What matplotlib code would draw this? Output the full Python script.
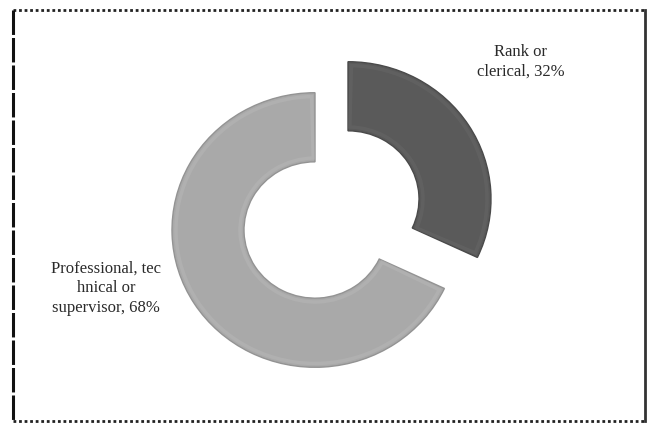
import matplotlib.pyplot as plt
from matplotlib.patches import Wedge
from matplotlib.lines import Line2D

# Share of staff by job category
categories = ["Rank or\nclerical", "Professional, tec\nhnical or\nsupervisor"]
shares = [32, 68]
colors = ["#5a5a5a", "#a9a9a9"]
edge_colors = ["#4a4a4a", "#939393"]
highlight_colors = ["#666666", "#b6b6b6"]

W, H = 654, 430
YS = 0.96  # vertical squash of the ring


def to_data(px, py):
    return px, (H - py) / YS


fig = plt.figure(figsize=(W / 100, H / 100), dpi=100)
fig.patch.set_facecolor("white")
ax = fig.add_axes([0, 0, 1, 1])

radius = 143
ring_width = 72
centers_px = [(348, 199), (315, 230)]

wedges, _ = ax.pie(
    shares,
    startangle=90,
    counterclock=False,
    colors=colors,
    radius=radius,
    center=to_data(331, 215),
    wedgeprops=dict(width=ring_width, linewidth=1.0),
)

for w, c, ec, hc in zip(wedges, centers_px, edge_colors, highlight_colors):
    w.set_center(to_data(*c))
    w.set_edgecolor(ec)
    # soft bevel highlight just inside the outline
    inset = Wedge(to_data(*c), radius - 4, w.theta1 + 1.4, w.theta2 - 1.4,
                  width=ring_width - 8, facecolor="none", edgecolor=hc,
                  linewidth=2.5, alpha=0.55)
    ax.add_patch(inset)

ax.set_aspect("auto")
ax.set_xlim(0, W)
ax.set_ylim(0, H / YS)
ax.axis("off")

label_pos_px = [(521, 62), (106, 288)]
for cat, s, (px, py) in zip(categories, shares, label_pos_px):
    x, y = to_data(px, py)
    ax.text(x, y, f"{cat}, {s}%", ha="center", va="center",
            family="Liberation Serif", fontsize=12, color="#2a2a2a",
            linespacing=1.3)

# dotted chart-area border
def fig_line(x0, y0, x1, y1, **kw):
    fig.add_artist(Line2D([x0 / W, x1 / W], [1 - y0 / H, 1 - y1 / H],
                          transform=fig.transFigure, **kw))

fig_line(13, 10, 645, 10, color="#222222", linewidth=2, linestyle=(0, (1, 1)))
fig_line(13, 421, 645, 421, color="#222222", linewidth=2, linestyle=(0, (1, 1)))
fig_line(13, 10, 13, 421, color="#111111", linewidth=2.2, linestyle=(0, (8, 1)))
fig_line(645, 10, 645, 421, color="#333333", linewidth=2)

fig.savefig("out.png", dpi=100, facecolor="white")
